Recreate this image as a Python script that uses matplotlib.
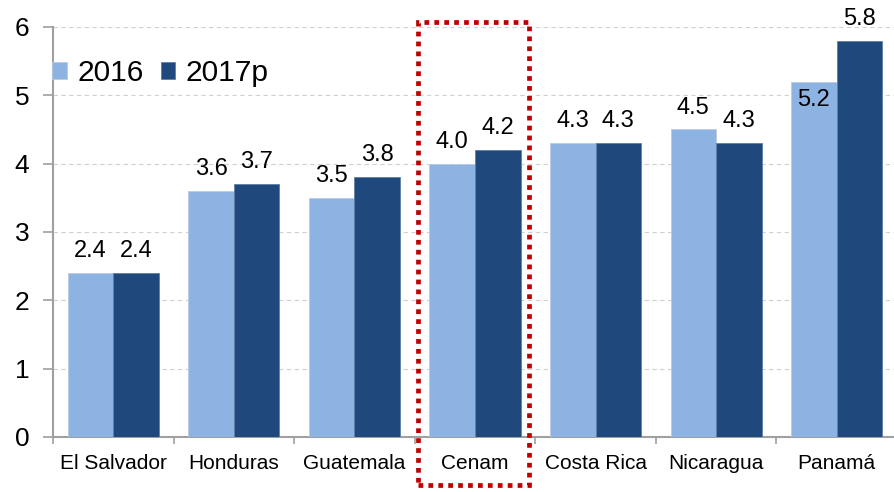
import matplotlib
matplotlib.use("Agg")
import matplotlib.pyplot as plt
from matplotlib.patches import Rectangle
import numpy as np

plt.rcParams['font.family'] = ['Liberation Sans', 'DejaVu Sans']

categories = ["El Salvador", "Honduras", "Guatemala", "Cenam", "Costa Rica", "Nicaragua", "Panamá"]
series_names = ["2016", "2017p"]
values_2016 = [2.4, 3.6, 3.5, 4.0, 4.3, 4.5, 5.2]
values_2017 = [2.4, 3.7, 3.8, 4.2, 4.3, 4.3, 5.8]
y_ticks = [0, 1, 2, 3, 4, 5, 6]

c_light = "#8DB3E2"
c_dark = "#1F497D"

fig = plt.figure(figsize=(8.95, 4.92), dpi=100)
ax = fig.add_axes([53 / 895, 1 - 437 / 492, 844 / 895, 410 / 492])

x = np.arange(len(categories))
w = 0.378
ax.bar(x - w / 2, values_2016, w, color=c_light, label=series_names[0],
       edgecolor="#B8CCE4", linewidth=0.6, zorder=3)
ax.bar(x + w / 2, values_2017, w, color=c_dark, label=series_names[1],
       edgecolor="#5F7FA8", linewidth=0.6, zorder=3)

ax.set_xlim(-0.5, len(categories) - 0.5)
ax.set_ylim(0, 6)
ax.set_yticks(y_ticks)
ax.set_yticklabels([str(t) for t in y_ticks], fontsize=19)

ax.set_xticks(x)
ax.set_xticklabels(categories, fontsize=15)
ax.tick_params(axis="x", length=0, pad=12)
ax.set_xticks(np.arange(len(categories) + 1) - 0.5, minor=True)
ax.tick_params(axis="x", which="minor", length=5, color="#A0A0A0", width=1.2, direction="out")
ax.tick_params(axis="y", length=7, color="#A0A0A0", width=1.2, pad=10)

ax.yaxis.grid(True, linestyle=(0, (4, 3)), color="#D0D0D0", linewidth=0.8, zorder=0)
ax.set_axisbelow(True)
for s in ["top", "right"]:
    ax.spines[s].set_visible(False)
for s in ["left", "bottom"]:
    ax.spines[s].set_color("#A0A0A0")
    ax.spines[s].set_linewidth(1.5)

# value labels: above each bar, except the tallest 2016 bar which is labelled inside
top_2016 = max(values_2016)
for xi, v in zip(x - w / 2, values_2016):
    dy = -17.5 if v == top_2016 else 11.5
    ax.annotate(f"{v:.1f}", (xi, v), xytext=(0, dy), textcoords="offset points",
                ha="center", va="baseline", fontsize=17)
for xi, v in zip(x + w / 2, values_2017):
    ax.annotate(f"{v:.1f}", (xi, v), xytext=(0, 11.5), textcoords="offset points",
                ha="center", va="baseline", fontsize=17)

# highlight box around the regional aggregate
rect = Rectangle((2.527, -0.70), 0.917, 6.78, fill=False, edgecolor="#C00000",
                 linewidth=3.4, linestyle=(0, (1, 1.1)), clip_on=False, zorder=5)
ax.add_patch(rect)

ax.legend(loc="upper left", bbox_to_anchor=(-0.022, 0.966), ncol=2, frameon=False,
          fontsize=21.5, handlelength=0.5, handleheight=0.5, handletextpad=0.35,
          columnspacing=0.55, borderaxespad=0.2)

fig.savefig("out.png", dpi=100)
